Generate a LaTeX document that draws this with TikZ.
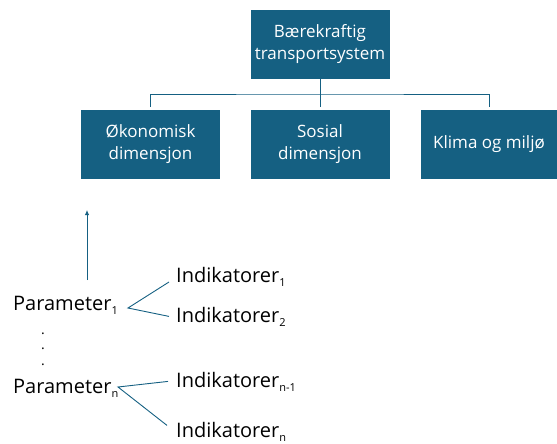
\documentclass[tikz,border=0pt]{standalone}
\usepackage{fontspec}
\setmainfont{Open Sans}
\usepackage{tikz}
\usetikzlibrary{arrows.meta}
\definecolor{boxblue}{HTML}{156082}
\newcommand{\subtxt}[1]{\raisebox{-4pt}{\fontsize{11}{11}\selectfont#1}}

\begin{document}
\begin{tikzpicture}[x=1pt, y=-1pt,
  dim/.style={fill=boxblue, text=white, minimum width=139pt, minimum height=69pt,
    align=center, inner sep=0pt, font=\fontsize{17}{22}\selectfont},
  lbl/.style={anchor=base west, inner sep=0pt, font=\fontsize{20}{24}\selectfont},
  conn/.style={draw=boxblue, line width=0.9pt}]
\useasboundingbox (0,0) rectangle (557,444);

\node[dim] (top) at (320,44.5) {Bærekraftig\\transportsystem};
\node[dim] (oko) at (150.5,144.5) {Økonomisk\\dimensjon};
\node[dim] (sos) at (320,144.5) {Sosial\\dimensjon};
\node[dim, minimum width=136pt] (klima) at (489,144.5) {Klima og miljø};

\coordinate (bus) at (320,94);
\draw[conn] (top.south) -- ([yshift=3pt]sos.north);
\draw[conn] ([yshift=3pt]oko.north) |- (bus) -| ([yshift=3pt]klima.north);

\node[lbl] (par1) at (13,310) {Parameter\subtxt{1}};
\node[lbl] (parn) at (13,393) {Parameter\subtxt{n}};
\node[lbl] (ind1) at (176,282) {Indikatorer\subtxt{1}};
\node[lbl] (ind2) at (176,322) {Indikatorer\subtxt{2}};
\node[lbl] (indm) at (176,387) {Indikatorer\subtxt{n-1}};
\node[lbl] (indn) at (176,437) {Indikatorer\subtxt{n}};
\foreach \y [count=\i] in {334,349.5,365}
  \node[anchor=base, inner sep=0pt, text height=2pt, text depth=0pt,
    font=\fontsize{14}{14}\selectfont] (dot\i) at (43,\y) {.};

\coordinate (j1) at (128,308);
\coordinate (jn) at (118,387);
\draw[conn] (ind1.base west) ++(-7,0) -- (j1) -- ([xshift=-7pt]ind2.west);
\draw[conn] ([xshift=-8pt]indm.west) -- (jn) -- ([xshift=-9pt,yshift=6pt]indn.west);

\coordinate (up) at (87,210);
\draw[conn, -{Latex[length=5pt,width=4.5pt]}] (87,280) -- (up);
\end{tikzpicture}
\end{document}
